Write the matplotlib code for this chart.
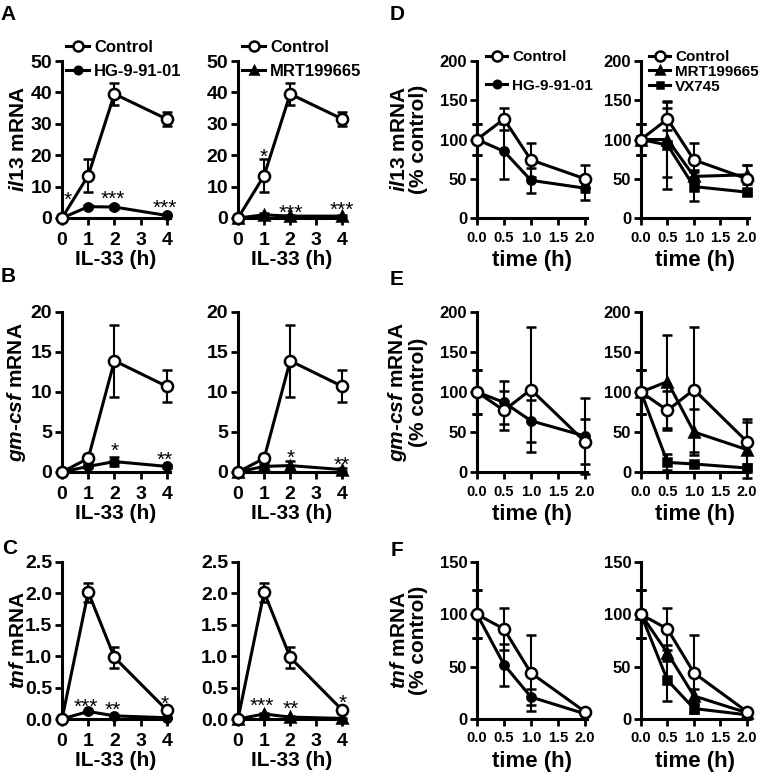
import matplotlib
matplotlib.use("Agg")
import matplotlib.pyplot as plt
from matplotlib.lines import Line2D

plt.rcParams['font.family'] = ['Liberation Sans', 'DejaVu Sans']
plt.rcParams['font.weight'] = 'bold'
plt.rcParams['mathtext.fontset'] = 'custom'
plt.rcParams['mathtext.it'] = 'Liberation Sans:italic:bold'
plt.rcParams['mathtext.rm'] = 'Liberation Sans:bold'

# IL-33 time course (h)
hours = [0, 1, 2, 4]
il13_ctrl = [0, 13.5, 39.5, 31.5]
il13_ctrl_err = [0, 5.2, 3.5, 2.3]
il13_hg = [0, 3.6, 3.5, 0.8]
il13_hg_err = [0, 0.4, 0.5, 0.3]
il13_mrt = [0, 1.0, 0.6, 0.6]
il13_mrt_err = [0, 0.5, 0.3, 0.3]

gmcsf_ctrl = [0, 1.7, 13.9, 10.7]
gmcsf_ctrl_err = [0, 0.6, 4.5, 2.0]
gmcsf_hg = [0, 0.7, 1.3, 0.7]
gmcsf_hg_err = [0, 0.2, 0.6, 0.2]
gmcsf_mrt = [0, 0.7, 0.8, 0.3]
gmcsf_mrt_err = [0, 0.2, 0.6, 0.2]

tnf_ctrl = [0, 2.02, 0.98, 0.14]
tnf_ctrl_err = [0, 0.15, 0.16, 0.04]
tnf_hg = [0, 0.12, 0.05, 0.02]
tnf_hg_err = [0, 0.02, 0.01, 0.01]
tnf_mrt = [0, 0.08, 0.03, 0.01]
tnf_mrt_err = [0, 0.02, 0.01, 0.01]

# decay (% control)
times = [0, 0.5, 1.0, 2.0]
il13_pct_ctrl = [100, 126, 74, 50]
il13_pct_ctrl_err = [20, 14, 22, 17]
il13_pct_hg = [100, 85, 48, 38]
il13_pct_hg_err = [20, 35, 16, 15]
il13_pct_mrt = [100, 100, 53, 55]
il13_pct_mrt_err = [20, 48, 8, 12]
il13_pct_vx = [100, 93, 40, 33]
il13_pct_vx_err = [20, 56, 18, 4]

gm_pct_ctrl = [100, 77, 103, 38]
gm_pct_ctrl_err = [27, 24, 78, 28]
gm_pct_hg = [100, 87, 64, 45]
gm_pct_hg_err = [27, 27, 26, 48]
gm_pct_mrt = [100, 113, 50, 28]
gm_pct_mrt_err = [27, 58, 29, 35]
gm_pct_vx = [100, 12, 10, 5]
gm_pct_vx_err = [27, 10, 3, 2]

tnf_pct_ctrl = [100, 86, 44, 7]
tnf_pct_ctrl_err = [23, 20, 36, 2]
tnf_pct_hg = [100, 52, 21, 5]
tnf_pct_hg_err = [23, 20, 8, 1]
tnf_pct_mrt = [100, 63, 22, 6]
tnf_pct_mrt_err = [23, 8, 7, 2]
tnf_pct_vx = [100, 37, 10, 4]
tnf_pct_vx_err = [23, 20, 4, 1]

# significance marks: (text, x, y)
stars_A1 = [("*", 0.2, 7.6), ("***", 1.94, 8), ("***", 3.92, 5)]
stars_A2 = [("*", 1.0, 21.4), ("***", 2.03, 3.6), ("***", 3.96, 4.5)]
stars_B1 = [("*", 2.0, 3.4), ("**", 3.92, 2.25)]
stars_B2 = [("*", 2.0, 2.5), ("**", 3.96, 1.6)]
stars_C1 = [("***", 0.91, 0.29), ("**", 1.95, 0.24), ("*", 3.92, 0.33)]
stars_C2 = [("***", 0.9, 0.31), ("**", 2.03, 0.25), ("*", 4.0, 0.35)]

W, H = 762, 778
fig = plt.figure(figsize=(W / 100, H / 100), dpi=100)


def make_axes(left, top, right, bottom):
    return fig.add_axes([left / W, 1 - bottom / H, (right - left) / W, (bottom - top) / H])


STY = {
    'ctrl': dict(marker='o', ms=8, mfc='white', zorder=5),
    'hg': dict(marker='o', ms=6, mfc='black', zorder=4),
    'mrt': dict(marker='^', ms=6.5, mfc='black', zorder=4),
    'vx': dict(marker='s', ms=5.5, mfc='black', zorder=4),
}


def series(ax, x, y, err, kind):
    s = STY[kind]
    c = ax.errorbar(x, y, yerr=err, color='black', lw=2.2, marker=s['marker'], ms=s['ms'],
                    mfc=s['mfc'], mec='black', mew=1.8, capsize=3.5, elinewidth=1.5,
                    capthick=1.5, zorder=s['zorder'], clip_on=False)
    for art in c.get_children():
        art.set_clip_on(False)


def style(ax, xlim, xticks, xfmt, ylim, yticks, yfmt, xs, ys, xpad):
    for sp in ['top', 'right']:
        ax.spines[sp].set_visible(False)
    for sp in ['left', 'bottom']:
        ax.spines[sp].set_linewidth(2.2)
    ax.set_xlim(*xlim)
    ax.set_ylim(*ylim)
    ax.set_xticks(xticks)
    ax.set_xticklabels([xfmt.format(t) for t in xticks], fontsize=xs, fontweight='bold')
    ax.set_yticks(yticks)
    ax.set_yticklabels([yfmt.format(t) for t in yticks], fontsize=ys, fontweight='bold')
    ax.tick_params(direction='out', length=5, width=2)
    ax.tick_params(axis='y', pad=2)
    ax.tick_params(axis='x', pad=xpad)


def stars(ax, marks):
    for s, x, y in marks:
        ax.annotate(s, (x, y), xytext=(0, -8.5), textcoords='offset points', ha='center',
                    va='baseline', fontsize=15, fontweight='normal')


def legend(ax, labels, kinds, x, y, fs, spacing):
    hs = []
    for k in kinds:
        s = STY[k]
        hs.append(Line2D([], [], color='black', lw=2.2, marker=s['marker'], ms=s['ms'] * 0.9,
                         mfc=s['mfc'], mec='black', mew=1.8))
    ax.legend(hs, labels, loc='upper left', bbox_to_anchor=(x / W, 1 - y / H),
              bbox_transform=fig.transFigure, frameon=False, borderpad=0, borderaxespad=0,
              handlelength=1.4, handletextpad=0.3, labelspacing=spacing, numpoints=1,
              prop={'size': fs, 'weight': 'bold'})


rows = [(61, 218), (312, 472), (562, 719)]
cols_h = [(62, 169.5), (238, 345)]
cols_t = [(477, 586.5), (641, 748.5)]

time_data = [
    (il13_ctrl, il13_ctrl_err, il13_hg, il13_hg_err, il13_mrt, il13_mrt_err,
     (0, 50), [0, 10, 20, 30, 40, 50], "{:d}", r"$\mathit{il13}$ mRNA", stars_A1, stars_A2),
    (gmcsf_ctrl, gmcsf_ctrl_err, gmcsf_hg, gmcsf_hg_err, gmcsf_mrt, gmcsf_mrt_err,
     (0, 20), [0, 5, 10, 15, 20], "{:d}", r"$\mathit{gm}$-$\mathit{csf}$ mRNA", stars_B1, stars_B2),
    (tnf_ctrl, tnf_ctrl_err, tnf_hg, tnf_hg_err, tnf_mrt, tnf_mrt_err,
     (0, 2.5), [0, 0.5, 1.0, 1.5, 2.0, 2.5], "{:.1f}", r"$\mathit{tnf}$ mRNA", stars_C1, stars_C2),
]

decay_data = [
    (il13_pct_ctrl, il13_pct_ctrl_err, il13_pct_hg, il13_pct_hg_err, il13_pct_mrt,
     il13_pct_mrt_err, il13_pct_vx, il13_pct_vx_err, (0, 200), [0, 50, 100, 150, 200],
     "$\\mathit{il13}$ mRNA\n(% control)"),
    (gm_pct_ctrl, gm_pct_ctrl_err, gm_pct_hg, gm_pct_hg_err, gm_pct_mrt, gm_pct_mrt_err,
     gm_pct_vx, gm_pct_vx_err, (0, 200), [0, 50, 100, 150, 200],
     "$\\mathit{gm}$-$\\mathit{csf}$ mRNA\n(% control)"),
    (tnf_pct_ctrl, tnf_pct_ctrl_err, tnf_pct_hg, tnf_pct_hg_err, tnf_pct_mrt, tnf_pct_mrt_err,
     tnf_pct_vx, tnf_pct_vx_err, (0, 150), [0, 50, 100, 150],
     "$\\mathit{tnf}$ mRNA\n(% control)"),
]

for r, (top, bot) in enumerate(rows):
    ctrl, ctrl_e, hg, hg_e, mrt, mrt_e, ylim, yt, yfmt, ylab, st1, st2 = time_data[r]
    ax1 = make_axes(cols_h[0][0], top, cols_h[0][1], bot)
    series(ax1, hours, hg, hg_e, 'hg')
    series(ax1, hours, ctrl, ctrl_e, 'ctrl')
    style(ax1, (0, 4.1), [0, 1, 2, 3, 4], "{:d}", ylim, yt, yfmt, 14, 14, 5)
    stars(ax1, st1)
    ax1.set_xlabel("IL-33 (h)", fontsize=15, fontweight='bold', labelpad=1)
    ax1.set_ylabel(ylab, fontsize=15, fontweight='bold')
    ax1.yaxis.set_label_coords(-0.32, 0.5)

    ax2 = make_axes(cols_h[1][0], top, cols_h[1][1], bot)
    series(ax2, hours, mrt, mrt_e, 'mrt')
    series(ax2, hours, ctrl, ctrl_e, 'ctrl')
    style(ax2, (0, 4.1), [0, 1, 2, 3, 4], "{:d}", ylim, yt, yfmt, 14, 14, 5)
    stars(ax2, st2)
    ax2.set_xlabel("IL-33 (h)", fontsize=15, fontweight='bold', labelpad=1)

    if r == 0:
        legend(ax1, ["Control", "HG-9-91-01"], ['ctrl', 'hg'], 66, 40, 12, 0.55)
        legend(ax2, ["Control", "MRT199665"], ['ctrl', 'mrt'], 242, 40, 12, 0.55)

    pc, pc_e, ph, ph_e, pm, pm_e, pv, pv_e, ylim2, yt2, ylab2 = decay_data[r]
    ax3 = make_axes(cols_t[0][0], top, cols_t[0][1], bot)
    series(ax3, times, ph, ph_e, 'hg')
    series(ax3, times, pc, pc_e, 'ctrl')
    style(ax3, (0, 2.03), [0, 0.5, 1.0, 1.5, 2.0], "{:.1f}", ylim2, yt2, "{:d}", 10.5, 12, 4)
    ax3.set_xlabel("time (h)", fontsize=16, fontweight='bold', labelpad=4)
    ax3.set_ylabel(ylab2, fontsize=15, fontweight='bold', linespacing=1.0)
    ax3.yaxis.set_label_coords(-0.45, 0.5)

    ax4 = make_axes(cols_t[1][0], top, cols_t[1][1], bot)
    if r == 2:
        series(ax4, times, pc, pc_e, 'ctrl')
        series(ax4, times, pm, pm_e, 'mrt')
        series(ax4, times, pv, pv_e, 'vx')
    else:
        series(ax4, times, pm, pm_e, 'mrt')
        series(ax4, times, pv, pv_e, 'vx')
        series(ax4, times, pc, pc_e, 'ctrl')
    style(ax4, (0, 2.03), [0, 0.5, 1.0, 1.5, 2.0], "{:.1f}", ylim2, yt2, "{:d}", 10.5, 12, 4)
    ax4.set_xlabel("time (h)", fontsize=16, fontweight='bold', labelpad=4)

    if r == 0:
        legend(ax3, ["Control", "HG-9-91-01"], ['ctrl', 'hg'], 486, 50, 11, 0.95)
        legend(ax4, ["Control", "MRT199665", "VX745"], ['ctrl', 'mrt', 'vx'], 649, 50, 11, 0.05)

for letter, x, y in [("A", 8, 15), ("B", 8, 277), ("C", 10, 549),
                     ("D", 397, 15), ("E", 397, 279), ("F", 397, 551)]:
    fig.text(x / W, 1 - y / H, letter, fontsize=15, fontweight='bold', ha='center', va='center')

fig.savefig("out.png", dpi=100)
